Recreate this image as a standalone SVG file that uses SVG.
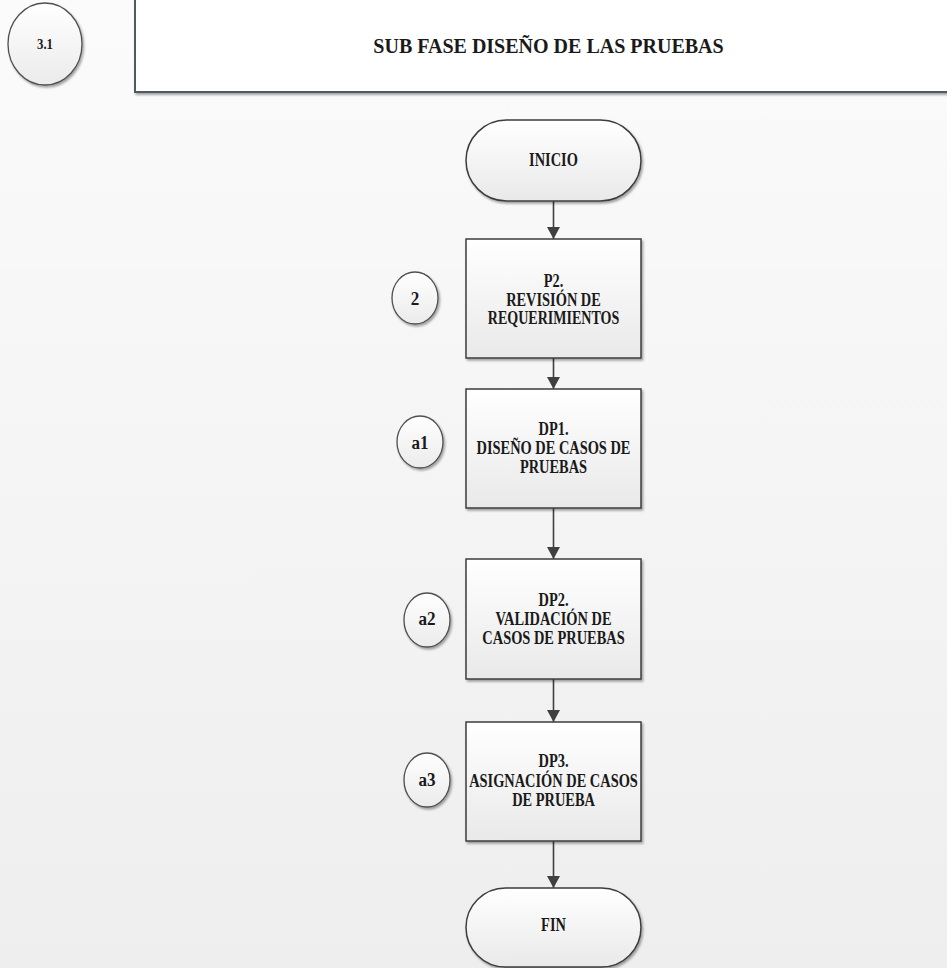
<svg xmlns="http://www.w3.org/2000/svg" width="947" height="968" viewBox="0 0 947 968">
  <style>
    text { font-family: 'Liberation Serif', 'DejaVu Serif', serif; font-weight: 700; fill: #1a1a1a; text-anchor: middle; }
    .box { fill: url(#boxg); stroke: #3d3d3d; stroke-width: 1.5; filter: url(#sh); }
    .circ { fill: url(#circg); stroke: #505050; stroke-width: 1.3; filter: url(#sh); }
    .conn { stroke: #404040; stroke-width: 1.6; fill: none; marker-end: url(#arr); }
  </style>
  <defs>
    <linearGradient id="bg" x1="0" y1="0" x2="0" y2="1">
      <stop offset="0" stop-color="#fbfbfb"/>
      <stop offset="1" stop-color="#eeeeee"/>
    </linearGradient>
    <linearGradient id="boxg" x1="0" y1="0" x2="0" y2="1">
      <stop offset="0" stop-color="#ffffff"/>
      <stop offset="1" stop-color="#e9e9e9"/>
    </linearGradient>
    <linearGradient id="circg" x1="0" y1="0" x2="0" y2="1">
      <stop offset="0" stop-color="#ffffff"/>
      <stop offset="1" stop-color="#ebebeb"/>
    </linearGradient>
    <filter id="sh" x="-20%" y="-20%" width="140%" height="140%">
      <feDropShadow dx="1.5" dy="2" stdDeviation="1.2" flood-color="#000" flood-opacity="0.35"/>
    </filter>
    <marker id="arr" markerWidth="12" markerHeight="13" refX="12" refY="6.5" orient="auto" markerUnits="userSpaceOnUse">
      <path d="M0,0 L12,6.5 L0,13 Z" fill="#404040"/>
    </marker>
  </defs>

  <rect x="0" y="0" width="947" height="968" fill="url(#bg)"/>

  <g id="header">
    <rect x="135" y="-5" width="820" height="97" fill="#ffffff" stroke="#4d5a60" stroke-width="2" filter="url(#sh)"/>
    <text font-family="Liberation Serif, serif" font-size="22" transform="translate(548.5 53) scale(0.91 1)">SUB FASE DISEÑO DE LAS PRUEBAS</text>
  </g>

  <g id="phase-31">
    <ellipse class="circ" cx="45" cy="44" rx="37" ry="41"/>
    <text font-family="Liberation Serif, serif" font-size="15" transform="translate(45 48.5) scale(0.85 1)">3.1</text>
  </g>

  <g id="connectors">
    <line class="conn" x1="553.5" y1="201" x2="553.5" y2="239"/>
    <line class="conn" x1="553.5" y1="358" x2="553.5" y2="389"/>
    <line class="conn" x1="553.5" y1="508" x2="553.5" y2="559"/>
    <line class="conn" x1="553.5" y1="679" x2="553.5" y2="722"/>
    <line class="conn" x1="553.5" y1="841" x2="553.5" y2="888"/>
  </g>

  <g id="inicio">
    <rect class="box" x="466" y="120" width="175" height="81" rx="40.5" ry="40.5"/>
    <text font-family="Liberation Serif, serif" font-size="18" transform="translate(553.5 166) scale(0.8 1)">INICIO</text>
  </g>

  <g id="p2">
    <rect class="box" x="466" y="239" width="175" height="119"/>
    <text font-family="Liberation Serif, serif" font-size="18" transform="translate(553.5 287) scale(0.8 1)">P2.</text>
    <text font-family="Liberation Serif, serif" font-size="18" transform="translate(553.5 306) scale(0.8 1)">REVISIÓN DE</text>
    <text font-family="Liberation Serif, serif" font-size="18" transform="translate(553.5 324) scale(0.78 1)">REQUERIMIENTOS</text>
  </g>
  <g id="c2">
    <ellipse class="circ" cx="415" cy="298" rx="23" ry="26"/>
    <text font-family="Liberation Serif, serif" font-size="19" transform="translate(415 304.5) scale(0.9 1)">2</text>
  </g>

  <g id="dp1">
    <rect class="box" x="466" y="389" width="175" height="119"/>
    <text font-family="Liberation Serif, serif" font-size="18" transform="translate(553.5 435) scale(0.8 1)">DP1.</text>
    <text font-family="Liberation Serif, serif" font-size="18" transform="translate(553.5 454) scale(0.8 1)">DISEÑO DE CASOS DE</text>
    <text font-family="Liberation Serif, serif" font-size="18" transform="translate(553.5 473) scale(0.8 1)">PRUEBAS</text>
  </g>
  <g id="ca1">
    <ellipse class="circ" cx="420" cy="442" rx="23" ry="26"/>
    <text font-family="Liberation Serif, serif" font-size="19" transform="translate(420 448.5) scale(0.9 1)">a1</text>
  </g>

  <g id="dp2">
    <rect class="box" x="466" y="559" width="175" height="120"/>
    <text font-family="Liberation Serif, serif" font-size="18" transform="translate(553.5 606) scale(0.8 1)">DP2.</text>
    <text font-family="Liberation Serif, serif" font-size="18" transform="translate(553.5 625) scale(0.8 1)">VALIDACIÓN DE</text>
    <text font-family="Liberation Serif, serif" font-size="18" transform="translate(553.5 644) scale(0.8 1)">CASOS DE PRUEBAS</text>
  </g>
  <g id="ca2">
    <ellipse class="circ" cx="427" cy="620" rx="23" ry="27"/>
    <text font-family="Liberation Serif, serif" font-size="19" transform="translate(427 625) scale(0.9 1)">a2</text>
  </g>

  <g id="dp3">
    <rect class="box" x="466" y="722" width="175" height="119"/>
    <text font-family="Liberation Serif, serif" font-size="18" transform="translate(553.5 767) scale(0.8 1)">DP3.</text>
    <text font-family="Liberation Serif, serif" font-size="18" transform="translate(553.5 787) scale(0.8 1)">ASIGNACIÓN DE CASOS</text>
    <text font-family="Liberation Serif, serif" font-size="18" transform="translate(553.5 806) scale(0.8 1)">DE PRUEBA</text>
  </g>
  <g id="ca3">
    <ellipse class="circ" cx="427" cy="780" rx="23" ry="27"/>
    <text font-family="Liberation Serif, serif" font-size="19" transform="translate(427 786) scale(0.9 1)">a3</text>
  </g>

  <g id="fin">
    <rect class="box" x="466" y="888" width="175" height="79" rx="39.5" ry="39.5"/>
    <text font-family="Liberation Serif, serif" font-size="18" transform="translate(553.5 931) scale(0.8 1)">FIN</text>
  </g>
</svg>
